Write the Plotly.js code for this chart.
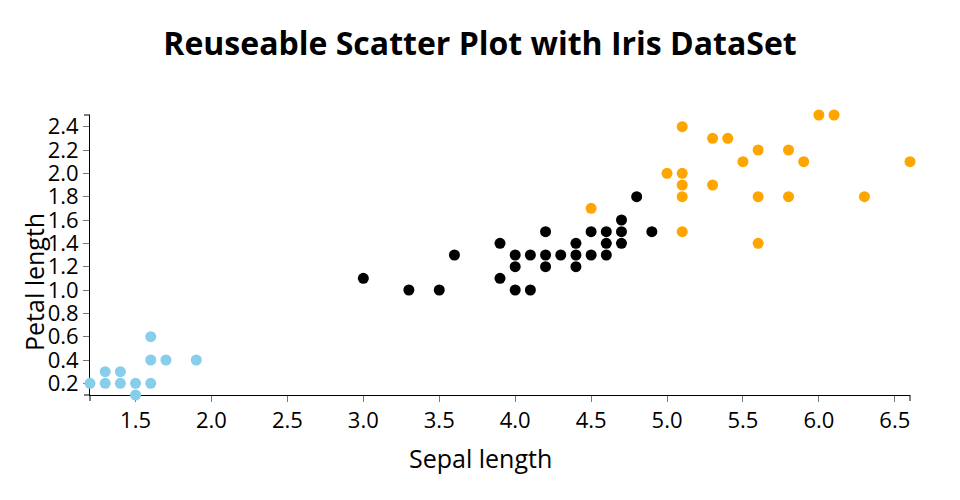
<!DOCTYPE html>
<html>
<head>
<meta charset="utf-8">
<script src="https://cdn.plot.ly/plotly-3.0.1.min.js"></script>
<style>
html,body{margin:0;padding:0;background:#fff;}
#chart{width:960px;height:500px;}
</style>
</head>
<body>
<div id="chart"></div>
<script>
// Iris: setosa
const setosaX = [1.2, 1.3, 1.3, 1.4, 1.4, 1.5, 1.5, 1.6, 1.6, 1.6, 1.7, 1.9];
const setosaY = [0.2, 0.2, 0.3, 0.2, 0.3, 0.2, 0.1, 0.2, 0.4, 0.6, 0.4, 0.4];
// versicolor
const versicolorX = [3.0, 3.3, 3.5, 3.6, 3.9, 3.9, 4.0, 4.0, 4.0, 4.1, 4.1, 4.2, 4.2, 4.2, 4.3, 4.4, 4.4, 4.4, 4.5, 4.5, 4.6, 4.6, 4.6, 4.7, 4.7, 4.7, 4.8, 4.9];
const versicolorY = [1.1, 1.0, 1.0, 1.3, 1.4, 1.1, 1.3, 1.2, 1.0, 1.0, 1.3, 1.5, 1.3, 1.2, 1.3, 1.4, 1.3, 1.2, 1.5, 1.3, 1.5, 1.4, 1.3, 1.6, 1.5, 1.4, 1.8, 1.5];
// virginica
const virginicaX = [4.5, 5.0, 5.1, 5.1, 5.1, 5.1, 5.1, 5.3, 5.3, 5.4, 5.5, 5.6, 5.6, 5.6, 5.8, 5.8, 5.9, 6.0, 6.1, 6.3, 6.6];
const virginicaY = [1.7, 2.0, 2.4, 2.0, 1.9, 1.8, 1.5, 2.3, 1.9, 2.3, 2.1, 2.2, 1.8, 1.4, 2.2, 1.8, 2.1, 2.5, 2.5, 1.8, 2.1];

const titleText = "Reuseable Scatter Plot with Iris DataSet";
const xTitle = "Sepal length";
const yTitle = "Petal length";

const FONT = "Open Sans, sans-serif";
function mk(x, y, color, name) {
  return {x: x, y: y, type: 'scatter', mode: 'markers', name: name,
    marker: {color: color, size: 11, line: {width: 0}}, cliponaxis: false, hoverinfo: 'x+y'};
}
const data = [
  mk(setosaX, setosaY, '#87CEEB', 'setosa'),
  mk(versicolorX, versicolorY, '#000000', 'versicolor'),
  mk(virginicaX, virginicaY, '#FFA500', 'virginica')
];
const W = 820, H = 280;
const tk = 6;
const layout = {
  width: 960, height: 500,
  margin: {l: 90, r: 50, t: 115, b: 105},
  paper_bgcolor: '#fff', plot_bgcolor: '#fff',
  showlegend: false,
  font: {family: FONT, color: '#000'},
  title: {text: '<b>' + titleText + '</b>', font: {family: FONT, size: 32, color: '#000'},
    x: 0.5, xref: 'container', xanchor: 'center', y: 1 - 44/500, yanchor: 'middle'},
  xaxis: {range: [1.2, 6.6], tick0: 1.5, dtick: 0.5, tickformat: '.1f',
    showgrid: false, zeroline: false, showline: true, linecolor: '#000', linewidth: 1,
    ticks: 'outside', ticklen: 6, tickcolor: '#777', tickwidth: 1,
    tickfont: {family: FONT, size: 22, color: '#000'}, layer: 'below traces', fixedrange: true},
  yaxis: {range: [0.1, 2.5], tick0: 0.2, dtick: 0.2, tickformat: '.1f',
    showgrid: false, zeroline: false, showline: true, linecolor: '#000', linewidth: 1,
    ticks: 'outside', ticklen: 6, tickcolor: '#777', tickwidth: 1,
    tickfont: {family: FONT, size: 22, color: '#000'}, layer: 'below traces', fixedrange: true},
  shapes: [
    {type: 'line', xref: 'paper', yref: 'paper', x0: 0, x1: 0, y0: 0, y1: -tk/H, line: {color: '#000', width: 1}, layer: 'below'},
    {type: 'line', xref: 'paper', yref: 'paper', x0: 1, x1: 1, y0: 0, y1: -tk/H, line: {color: '#000', width: 1}, layer: 'below'},
    {type: 'line', xref: 'paper', yref: 'paper', x0: 0, x1: -tk/W, y0: 0, y1: 0, line: {color: '#000', width: 1}, layer: 'below'},
    {type: 'line', xref: 'paper', yref: 'paper', x0: 0, x1: -tk/W, y0: 1, y1: 1, line: {color: '#000', width: 1}, layer: 'below'}
  ],
  annotations: [
    {text: xTitle, xref: 'paper', yref: 'paper', x: (480-90)/W, y: -(458-395)/H,
      xanchor: 'center', yanchor: 'middle', showarrow: false, font: {family: FONT, size: 25, color: '#000'}},
    {text: yTitle, xref: 'paper', yref: 'paper', x: -(90-34)/W, y: (395-282)/H, textangle: -90,
      xanchor: 'center', yanchor: 'middle', showarrow: false, font: {family: FONT, size: 25, color: '#000'}}
  ]
};
Plotly.newPlot('chart', data, layout, {displayModeBar: false, staticPlot: true});
</script>
</body>
</html>
